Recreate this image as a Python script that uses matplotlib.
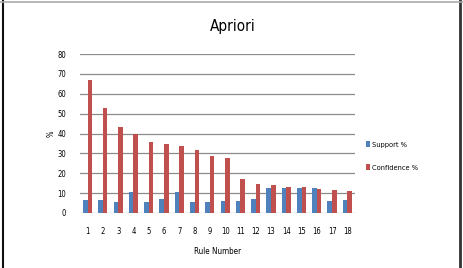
import numpy as np
import matplotlib.pyplot as plt
from matplotlib.lines import Line2D

plt.rcParams['font.family'] = ['Liberation Sans Narrow', 'DejaVu Sans']
plt.rcParams['font.stretch'] = 'condensed'

rules = [str(i) for i in range(1, 19)]
support = [6.5, 6.5, 5.5, 10.5, 5.5, 7, 10.5, 5.5, 5.5, 6, 6, 7, 12.5, 12.5, 12.5, 12.5, 6, 6.5]
confidence = [67, 53, 43.3, 40, 35.7, 34.7, 33.7, 31.7, 28.8, 27.7, 17.1, 14.7, 14, 13, 13, 12, 11.5, 11]

fig = plt.figure(figsize=(4.64, 2.68), dpi=100)
ax = fig.add_axes([80/464, 1 - 213/268, 275/464, 159/268])

x = np.arange(len(rules))
w = 0.3
ax.bar(x - w/2, support, w, color='#4F81BD', label='Support %', zorder=3)
ax.bar(x + w/2, confidence, w, color='#C0504D', label='Confidence %', zorder=3)

ax.set_xlim(-0.5, len(rules) - 0.5)
ax.set_ylim(0, 80)
ax.set_yticks(range(0, 81, 10))
ax.set_xticks(x)
ax.set_xticklabels(rules)
ax.yaxis.grid(True, color='#8c8c8c', linewidth=0.9, zorder=0)
for s in ax.spines.values():
    s.set_visible(False)
ax.tick_params(length=0, labelsize=5.5, pad=10)
ax.tick_params(axis='x', pad=10)

ax.set_xlabel('Rule Number', fontsize=5.8, labelpad=8)
ax.set_ylabel('%', fontsize=5.5, rotation=90, labelpad=1)
fig.text(233/464, 1 - 27/268, 'Apriori', fontsize=11, ha='center', va='center')

ax.legend(loc='center left', bbox_to_anchor=(1.015, 0.36), frameon=False,
          fontsize=5.3, handlelength=0.55, handleheight=1.0, handletextpad=0.3,
          labelspacing=2.2)

# frame around the figure
fig.add_artist(Line2D([3.5/464, 3.5/464], [0, 1], color='#111111', lw=1.5, transform=fig.transFigure))
fig.add_artist(Line2D([460.5/464, 460.5/464], [0, 1], color='#333333', lw=2, transform=fig.transFigure))
fig.add_artist(Line2D([0, 1], [1 - 1.5/268, 1 - 1.5/268], color='#aaaaaa', lw=1.2, transform=fig.transFigure))

fig.savefig('out.png', dpi=100)
